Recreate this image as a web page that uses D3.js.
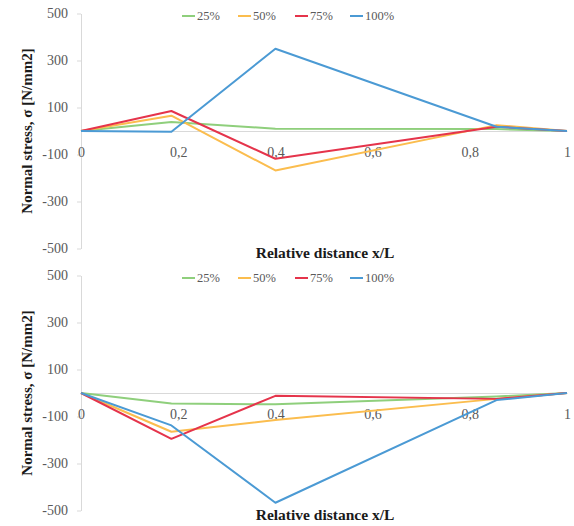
<!DOCTYPE html>
<html>
<head>
<meta charset="utf-8">
<script src="https://cdn.jsdelivr.net/npm/d3@7"></script>
<style>
  html, body { margin: 0; padding: 0; background: #fff; }
  svg { display: block; }
</style>
</head>
<body>
<svg id="chart" width="574" height="526"></svg>
<script>
// Relative positions along the member (x/L) where stresses were evaluated
const positions = [0, 0.186, 0.4, 0.855, 1];

// Load levels
const seriesNames = ["25%", "50%", "75%", "100%"];
const seriesColors = ["#8fcf7c", "#fbbd4e", "#e5344b", "#4b9ad4"];

// Upper panel: normal stress [N/mm2] per load level
const top25 = [0, 38, 10, 8, 0];
const top50 = [0, 65, -168, 25, 0];
const top75 = [0, 85, -118, 18, 0];
const top100 = [0, -3, 350, 18, 0];

// Lower panel: normal stress [N/mm2] per load level
const bot25 = [0, -45, -48, -15, 0];
const bot50 = [0, -165, -115, -25, 0];
const bot75 = [0, -195, -12, -25, 0];
const bot100 = [0, -138, -467, -30, 0];

// Axis ticks
const yTicks = [500, 300, 100, -100, -300, -500];
const yTickLabels = ["500", "300", "100", "-100", "-300", "-500"];
const xTicks = [0, 0.2, 0.4, 0.6, 0.8, 1];
const xTickLabels = ["0", "0,2", "0,4", "0,6", "0,8", "1"];

const xTitle = "Relative distance x/L";
const yTitle = "Normal stress, σ [N/mm2]";

const svg = d3.select("#chart");
const serif = "'Liberation Serif', 'DejaVu Serif', serif";

const x = d3.scaleLinear().domain([0, 1]).range([81, 567]);

function drawPanel(offsetY, data) {
  const g = svg.append("g").attr("transform", `translate(0,${offsetY})`);
  const y = d3.scaleLinear().domain([-500, 500]).range([248.5, 13.5]);

  // vertical axis
  const yAxis = d3.axisLeft(y)
    .tickValues(yTicks)
    .tickFormat((d, i) => yTickLabels[i])
    .tickSize(4)
    .tickSizeOuter(0)
    .tickPadding(9);
  const ya = g.append("g").attr("transform", `translate(${x(0)},0)`).call(yAxis);
  ya.select(".domain").attr("stroke", "#d9d9d9");
  ya.selectAll(".tick line").attr("stroke", "#d9d9d9");
  ya.selectAll(".tick text")
    .attr("fill", "#595959")
    .style("font-family", serif)
    .style("font-size", "14px");

  // horizontal axis crossing at zero
  const xAxis = d3.axisBottom(x)
    .tickValues(xTicks)
    .tickFormat((d, i) => xTickLabels[i])
    .tickSize(0)
    .tickSizeOuter(0)
    .tickPadding(16);
  const xa = g.append("g").attr("transform", `translate(0,${y(0)})`).call(xAxis);
  xa.select(".domain").attr("stroke", "#d9d9d9");
  xa.selectAll(".tick text")
    .attr("fill", "#595959")
    .style("font-family", serif)
    .style("font-size", "14px");

  // series lines
  const line = d3.line()
    .x((d, i) => x(positions[i]))
    .y(d => y(d));
  data.forEach((vals, k) => {
    g.append("path")
      .datum(vals)
      .attr("fill", "none")
      .attr("stroke", seriesColors[k])
      .attr("stroke-width", 2)
      .attr("stroke-linejoin", "round")
      .attr("d", line);
  });

  // legend
  const legendX = [182, 238, 295, 350];
  const lg = g.append("g").attr("transform", "translate(0,16)");
  seriesNames.forEach((name, k) => {
    const item = lg.append("g").attr("transform", `translate(${legendX[k]},0)`);
    item.append("line")
      .attr("x1", 0).attr("x2", 13)
      .attr("y1", 0).attr("y2", 0)
      .attr("stroke", seriesColors[k])
      .attr("stroke-width", 2);
    item.append("text")
      .attr("x", 15)
      .attr("y", 0)
      .attr("dy", "0.35em")
      .attr("fill", "#595959")
      .style("font-family", serif)
      .style("font-size", "12.5px")
      .text(name);
  });

  // axis titles
  g.append("text")
    .attr("x", 325)
    .attr("y", 253)
    .attr("dy", "0.35em")
    .attr("text-anchor", "middle")
    .attr("fill", "#1a1a1a")
    .style("font-family", serif)
    .style("font-weight", "bold")
    .style("font-size", "15.5px")
    .text(xTitle);

  g.append("text")
    .attr("transform", "translate(27,131) rotate(-90)")
    .attr("dy", "0.35em")
    .attr("text-anchor", "middle")
    .attr("fill", "#1a1a1a")
    .style("font-family", serif)
    .style("font-weight", "bold")
    .style("font-size", "15px")
    .text(yTitle);
}

drawPanel(0, [top25, top50, top75, top100]);
drawPanel(262, [bot25, bot50, bot75, bot100]);
</script>
</body>
</html>
